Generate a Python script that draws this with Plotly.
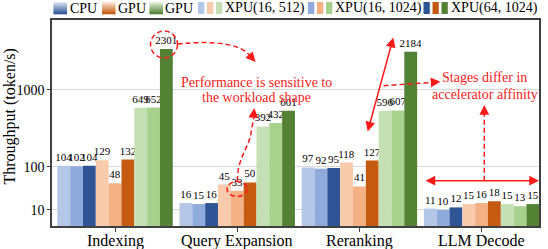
import plotly.graph_objects as go

# ---------------- data ----------------
categories = ["Indexing", "Query Expansion", "Reranking", "LLM Decode"]

cpu_16_512 = [104, 16, 97, 11]
cpu_16_1024 = [102, 15, 92, 10]
cpu_64_1024 = [104, 16, 95, 12]
gpu_16_512 = [129, 45, 118, 15]
gpu_16_1024 = [48, 33, 41, 16]
gpu_64_1024 = [132, 50, 127, 18]
gpu2_16_512 = [649, 392, 596, 15]
gpu2_16_1024 = [652, 432, 607, 13]
gpu2_64_1024 = [2301, 601, 2184, 15]

series_names = ["CPU XPU(16, 512)", "CPU XPU(16, 1024)", "CPU XPU(64, 1024)",
                "GPU XPU(16, 512)", "GPU XPU(16, 1024)", "GPU XPU(64, 1024)",
                "GPU XPU(16, 512) ", "GPU XPU(16, 1024) ", "GPU XPU(64, 1024) "]
series_values = [cpu_16_512, cpu_16_1024, cpu_64_1024,
                 gpu_16_512, gpu_16_1024, gpu_64_1024,
                 gpu2_16_512, gpu2_16_1024, gpu2_64_1024]
series_colors = ["#b4c7e7", "#8faadc", "#2f5597",
                 "#f8cbad", "#f4b183", "#c55a11",
                 "#c5e0b4", "#a9d18e", "#548235"]

tick_values = [10, 100, 1000]
tick_labels = ["10", "100", "1000"]

legend_labels = ["CPU", "GPU", "GPU", "XPU(16, 512)", "XPU(16, 1024)", "XPU(64, 1024)"]

FONT = "Liberation Serif, Times New Roman, serif"
RED = "#ff1a1a"

# compressed scale used by the original chart
P = 0.25
def tf(v):
    return v ** P

# ---------------- figure ----------------
W, H = 548, 249
L, R, T, B = 52, 9, 20, 23
PW, PH = W - L - R, H - T - B

def xp(px):
    return (px - L) / PW

def yp(py):
    return (H - B - py) / PH

fig = go.Figure()
for name, vals, col in zip(series_names, series_values, series_colors):
    fig.add_trace(go.Bar(
        x=categories, y=[tf(v) for v in vals], name=name,
        marker=dict(color=col, line=dict(width=0)),
        text=[str(v) for v in vals], textposition="outside", textangle=0,
        constraintext="none", cliponaxis=False,
        textfont=dict(family=FONT, size=11, color="black"),
        customdata=vals, hovertemplate="%{x}: %{customdata}<extra>" + name + "</extra>",
        showlegend=False))

shapes = []
annotations = []

# ---- category labels (placed a little closer to the axis than Plotly's default) ----
for cat in categories:
    annotations.append(dict(text=cat, xref="x", yref="paper", x=cat, y=yp(240.5),
                            xanchor="center", yanchor="middle", showarrow=False,
                            font=dict(family=FONT, size=16, color="black")))

# ---- manual legend ----
def grad_square(x0, x1, y0, y1, c_top, c_bot, n=12):
    def h2r(h):
        h = h.lstrip("#")
        return [int(h[i:i + 2], 16) for i in (0, 2, 4)]
    a, b = h2r(c_top), h2r(c_bot)
    step = (y1 - y0) / n
    for i in range(n):
        f = i / (n - 1)
        c = "rgb(%d,%d,%d)" % tuple(round(a[k] + (b[k] - a[k]) * f) for k in range(3))
        shapes.append(dict(type="rect", xref="paper", yref="paper",
                           x0=xp(x0), x1=xp(x1), y0=yp(y0 + step * (i + 1) + 0.3), y1=yp(y0 + step * i),
                           fillcolor=c, line=dict(width=0), layer="above"))

def solid_square(x0, x1, y0, y1, c):
    shapes.append(dict(type="rect", xref="paper", yref="paper",
                       x0=xp(x0), x1=xp(x1), y0=yp(y1), y1=yp(y0),
                       fillcolor=c, line=dict(width=0), layer="above"))

def legend_text(x, txt):
    annotations.append(dict(text=txt, xref="paper", yref="paper", x=xp(x), y=yp(8),
                            xanchor="left", yanchor="middle", showarrow=False,
                            font=dict(family=FONT, size=14, color="black"), borderpad=0))

grad_square(53.5, 67, 2, 14, "#dae3f3", "#2f5597")
legend_text(69, legend_labels[0])
grad_square(102, 115.5, 2, 14, "#fbe5d6", "#c55a11")
legend_text(116.5, legend_labels[1])
grad_square(149.5, 163, 2, 14, "#e2f0d9", "#548235")
legend_text(164, legend_labels[2])
for gx, tx, idx, lab in [(198, 223.5, 0, legend_labels[3]),
                         (308, 334, 1, legend_labels[4]),
                         (423.5, 450, 2, legend_labels[5])]:
    for j in range(3):
        solid_square(gx + j * 9, gx + j * 9 + 6.3, 2, 14, series_colors[3 * j + idx])
    legend_text(tx, lab)

# ---- y title ----
annotations.append(dict(text="Throughput (token/s)", xref="paper", yref="paper",
                        x=xp(9), y=yp(116.5), textangle=-90, showarrow=False,
                        xanchor="center", yanchor="middle",
                        font=dict(family=FONT, size=16, color="black")))

# ---- red annotations ----
def red_text(x, y, txt):
    annotations.append(dict(text=txt, xref="paper", yref="paper", x=xp(x), y=yp(y),
                            xanchor="center", yanchor="middle", showarrow=False,
                            font=dict(family=FONT, size=14, color=RED)))

red_text(256, 82, "Performance is sensitive to")
red_text(256, 97.5, "the workload shape")
red_text(484.5, 77, "Stages differ in")
red_text(484.5, 94.5, "accelerator affinity")

DASH = "5px,3px"

def path_px(cmds):
    out = []
    for c in cmds:
        if isinstance(c, str):
            out.append(c)
        else:
            out.append("%f,%f" % (xp(c[0]), yp(c[1])))
    return " ".join(out)

def dashed_path(cmds):
    shapes.append(dict(type="path", xref="paper", yref="paper", path=path_px(cmds),
                       line=dict(color=RED, width=1.5, dash=DASH), layer="above"))

def head(tx, ty, ax, ay):
    annotations.append(dict(text="", xref="paper", yref="paper", x=xp(tx), y=yp(ty),
                            ax=ax, ay=ay, showarrow=True, arrowhead=2, arrowsize=1.3,
                            arrowwidth=1.5, arrowcolor=RED))

# dashed circle around 2301
shapes.append(dict(type="circle", xref="paper", yref="paper",
                   x0=xp(150.5), x1=xp(177.5), y0=yp(58), y1=yp(31),
                   line=dict(color=RED, width=1.5, dash=DASH), layer="above"))
dashed_path(["M", (177.5, 44), "Q", (238, 38), (251, 57)])
head(255.5, 62, -7, -8)

# dashed ellipse around 33
shapes.append(dict(type="circle", xref="paper", yref="paper",
                   x0=xp(227), x1=xp(247), y0=yp(196.5), y1=yp(181.5),
                   line=dict(color=RED, width=1.5, dash=DASH), layer="above"))
dashed_path(["M", (237.5, 181), "C", (237, 160), (247, 150), (250.5, 136), "L", (254, 116)])
head(254.3, 108, -1, 10)

# solid double arrow in Reranking
annotations.append(dict(text="", xref="paper", yref="paper", x=xp(393.3), y=yp(37.5),
                        ax=-26, ay=95.5, showarrow=True, arrowhead=2, startarrowhead=2,
                        arrowside="end+start", arrowsize=1.3, startarrowsize=1.3,
                        arrowwidth=1.5, arrowcolor=RED))

# dashed arrow to "Stages differ"
dashed_path(["M", (383.5, 85.7), "L", (434, 82.3)])
head(440.5, 81.8, -9, 0.6)

# horizontal double arrow across LLM Decode
annotations.append(dict(text="", xref="paper", yref="paper", x=xp(539), y=yp(180.7),
                        ax=-115, ay=0, showarrow=True, arrowhead=2, startarrowhead=2,
                        arrowside="end+start", arrowsize=1.3, startarrowsize=1.3,
                        arrowwidth=1.5, arrowcolor=RED))
dashed_path(["M", (484.3, 180.7), "L", (484.3, 113)])
head(484.3, 105, 0, 10)

AX = "#404040"
fig.update_layout(
    width=W, height=H, margin=dict(l=L, r=R, t=T, b=B, autoexpand=False),
    barmode="group", bargap=0.055, bargroupgap=0,
    plot_bgcolor="white", paper_bgcolor="white",
    font=dict(family=FONT, color="black"),
    shapes=shapes, annotations=annotations,
    xaxis=dict(range=[-0.516, 3.47], showline=True, linecolor=AX, linewidth=1.6, mirror=True,
               ticks="outside", ticklen=4, tickwidth=1.2, tickcolor=AX,
               showticklabels=False, showgrid=False),
    yaxis=dict(range=[1.266, 7.854], tickvals=[tf(v) for v in tick_values], ticktext=tick_labels,
               showline=True, linecolor=AX, linewidth=1.6, mirror=True,
               ticks="outside", ticklen=3, tickwidth=1.2, tickcolor=AX,
               tickfont=dict(family=FONT, size=14, color="black"),
               showgrid=True, gridcolor="#d9d9d9", gridwidth=1, zeroline=False),
    showlegend=False,
)

fig.write_html("out.html")
